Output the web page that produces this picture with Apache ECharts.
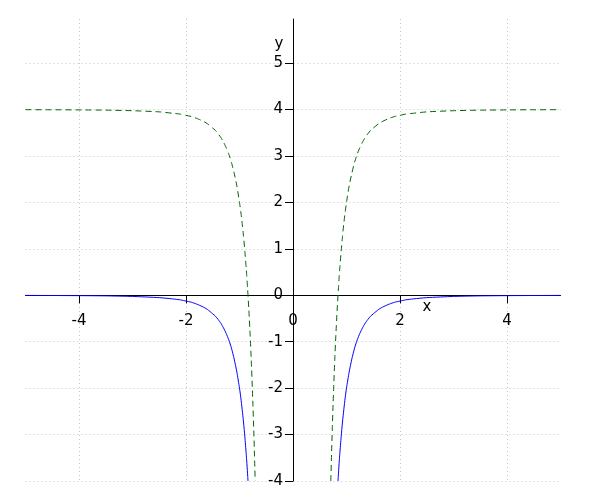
<!DOCTYPE html>
<html>
<head>
<meta charset="utf-8">
<script src="https://cdn.jsdelivr.net/npm/echarts@6/dist/echarts.min.js"></script>
<style>html,body{margin:0;padding:0;background:#fff}#c{width:600px;height:500px}</style>
</head>
<body>
<div id="c"></div>
<script>
// ---- data ----
var xTicks = [-4, -2, 0, 2, 4];
var yTicks = [-4, -3, -2, -1, 0, 1, 2, 3, 4, 5];
var xRange = [-5, 5];
var yRange = [-4, 5.95];

// green dashed curve, left and right branches
var greenLeftX = [-5.0, -4.5, -4.0, -3.5, -3.0, -2.5, -2.25, -2.1, -2.0, -1.9, -1.8, -1.7, -1.65, -1.6, -1.5, -1.45, -1.4, -1.35, -1.3, -1.25, -1.2, -1.15, -1.1, -1.05, -1.0, -0.975, -0.95, -0.925, -0.9, -0.875, -0.865, -0.85, -0.825, -0.8, -0.78, -0.76, -0.75, -0.735, -0.72, -0.707];
var greenLeftY = [3.997, 3.995, 3.992, 3.987, 3.975, 3.95, 3.92, 3.90, 3.875, 3.85, 3.81, 3.76, 3.73, 3.695, 3.60, 3.55, 3.48, 3.40, 3.30, 3.18, 3.04, 2.86, 2.63, 2.36, 2.00, 1.79, 1.55, 1.27, 0.95, 0.59, 0.43, 0.17, -0.32, -0.88, -1.40, -2.00, -2.32, -2.85, -3.44, -4.00];
var greenRightX = [0.707, 0.72, 0.735, 0.75, 0.76, 0.78, 0.8, 0.825, 0.85, 0.865, 0.875, 0.9, 0.925, 0.95, 0.975, 1.0, 1.05, 1.1, 1.15, 1.2, 1.25, 1.3, 1.35, 1.4, 1.45, 1.5, 1.6, 1.65, 1.7, 1.8, 1.9, 2.0, 2.1, 2.25, 2.5, 3.0, 3.5, 4.0, 4.5, 5.0];
var greenRightY = [-4.00, -3.44, -2.85, -2.32, -2.00, -1.40, -0.88, -0.32, 0.17, 0.43, 0.59, 0.95, 1.27, 1.55, 1.79, 2.00, 2.36, 2.63, 2.86, 3.04, 3.18, 3.30, 3.40, 3.48, 3.55, 3.60, 3.695, 3.73, 3.76, 3.81, 3.85, 3.875, 3.90, 3.92, 3.95, 3.975, 3.987, 3.992, 3.995, 3.997];

// blue solid curve, left and right branches
var blueLeftX = [-5.0, -4.5, -4.0, -3.5, -3.0, -2.5, -2.25, -2.1, -2.0, -1.9, -1.8, -1.7, -1.65, -1.6, -1.5, -1.45, -1.4, -1.35, -1.3, -1.25, -1.2, -1.15, -1.1, -1.05, -1.0, -0.975, -0.95, -0.925, -0.9, -0.875, -0.865, -0.85, -0.841];
var blueLeftY = [-0.003, -0.005, -0.008, -0.013, -0.025, -0.051, -0.078, -0.10, -0.125, -0.15, -0.19, -0.24, -0.27, -0.305, -0.40, -0.45, -0.52, -0.60, -0.70, -0.82, -0.96, -1.14, -1.37, -1.65, -2.00, -2.21, -2.46, -2.73, -3.05, -3.41, -3.57, -3.83, -4.00];
var blueRightX = [0.841, 0.85, 0.865, 0.875, 0.9, 0.925, 0.95, 0.975, 1.0, 1.05, 1.1, 1.15, 1.2, 1.25, 1.3, 1.35, 1.4, 1.45, 1.5, 1.6, 1.65, 1.7, 1.8, 1.9, 2.0, 2.1, 2.25, 2.5, 3.0, 3.5, 4.0, 4.5, 5.0];
var blueRightY = [-4.00, -3.83, -3.57, -3.41, -3.05, -2.73, -2.46, -2.21, -2.00, -1.65, -1.37, -1.14, -0.96, -0.82, -0.70, -0.60, -0.52, -0.45, -0.40, -0.305, -0.27, -0.24, -0.19, -0.15, -0.125, -0.10, -0.078, -0.051, -0.025, -0.013, -0.008, -0.005, -0.003];

function pairs(xs, ys) { return xs.map(function (x, i) { return [x, ys[i]]; }); }
var greenData = pairs(greenLeftX, greenLeftY).concat([[null, null]], pairs(greenRightX, greenRightY));
var blueData = pairs(blueLeftX, blueLeftY).concat([[null, null]], pairs(blueRightX, blueRightY));

var FONT = 'DejaVu Sans';
var chart = echarts.init(document.getElementById('c'), null, { renderer: 'canvas' });
var gridStyle = { color: '#c4c4c4', type: [1, 3], width: 1 };
var option = {
  animation: false,
  backgroundColor: '#ffffff',
  grid: { left: 25.5, right: 39.5, top: 19, bottom: 19, containLabel: false, outerBoundsMode: 'none' },
  xAxis: {
    type: 'value', min: xRange[0], max: xRange[1], interval: 2, position: 'bottom', offset: 0,
    axisLine: { onZero: false, lineStyle: { color: '#000', width: 1 } },
    axisTick: { show: true, length: 8, customValues: xTicks, lineStyle: { color: '#000', width: 1 } },
    axisLabel: { customValues: xTicks, margin: 18, color: '#000', fontFamily: FONT, fontSize: 15 },
    splitLine: { show: true, lineStyle: gridStyle }
  },
  yAxis: {
    type: 'value', min: yRange[0], max: yRange[1], interval: 1, position: 'left', offset: 0,
    axisLine: { onZero: false, lineStyle: { color: '#000', width: 1 } },
    axisTick: { show: true, length: 8, customValues: yTicks, lineStyle: { color: '#000', width: 1 } },
    axisLabel: { customValues: yTicks, margin: 10, padding: [4, 0, 0, 0], color: '#000', fontFamily: FONT, fontSize: 15 },
    splitLine: { show: true, lineStyle: gridStyle }
  },
  series: [
    {
      type: 'line', data: greenData, showSymbol: false, connectNulls: false,
      smooth: 0.2,
      lineStyle: { color: '#006400', width: 1, type: [6, 4] }, z: 3
    },
    {
      type: 'line', data: blueData, showSymbol: false, connectNulls: false,
      smooth: 0.2,
      lineStyle: { color: '#0000ff', width: 1 }, z: 4
    }
  ],
  graphic: [
    { type: 'text', x: 427, y: 307, style: { text: 'x', font: '15px "' + FONT + '"', fill: '#000', align: 'center', verticalAlign: 'middle' } },
    { type: 'text', x: 279, y: 44, style: { text: 'y', font: '15px "' + FONT + '"', fill: '#000', align: 'center', verticalAlign: 'middle' } }
  ]
};
chart.setOption(option);
// move the axes so they cross at the origin (labels included)
var origin = chart.convertToPixel({ gridIndex: 0 }, [0, 0]);
var corner = chart.convertToPixel({ gridIndex: 0 }, [xRange[0], yRange[0]]);
chart.setOption({
  xAxis: { offset: -(corner[1] - origin[1]) },
  yAxis: { offset: -(origin[0] - corner[0]) }
});
</script>
</body>
</html>
